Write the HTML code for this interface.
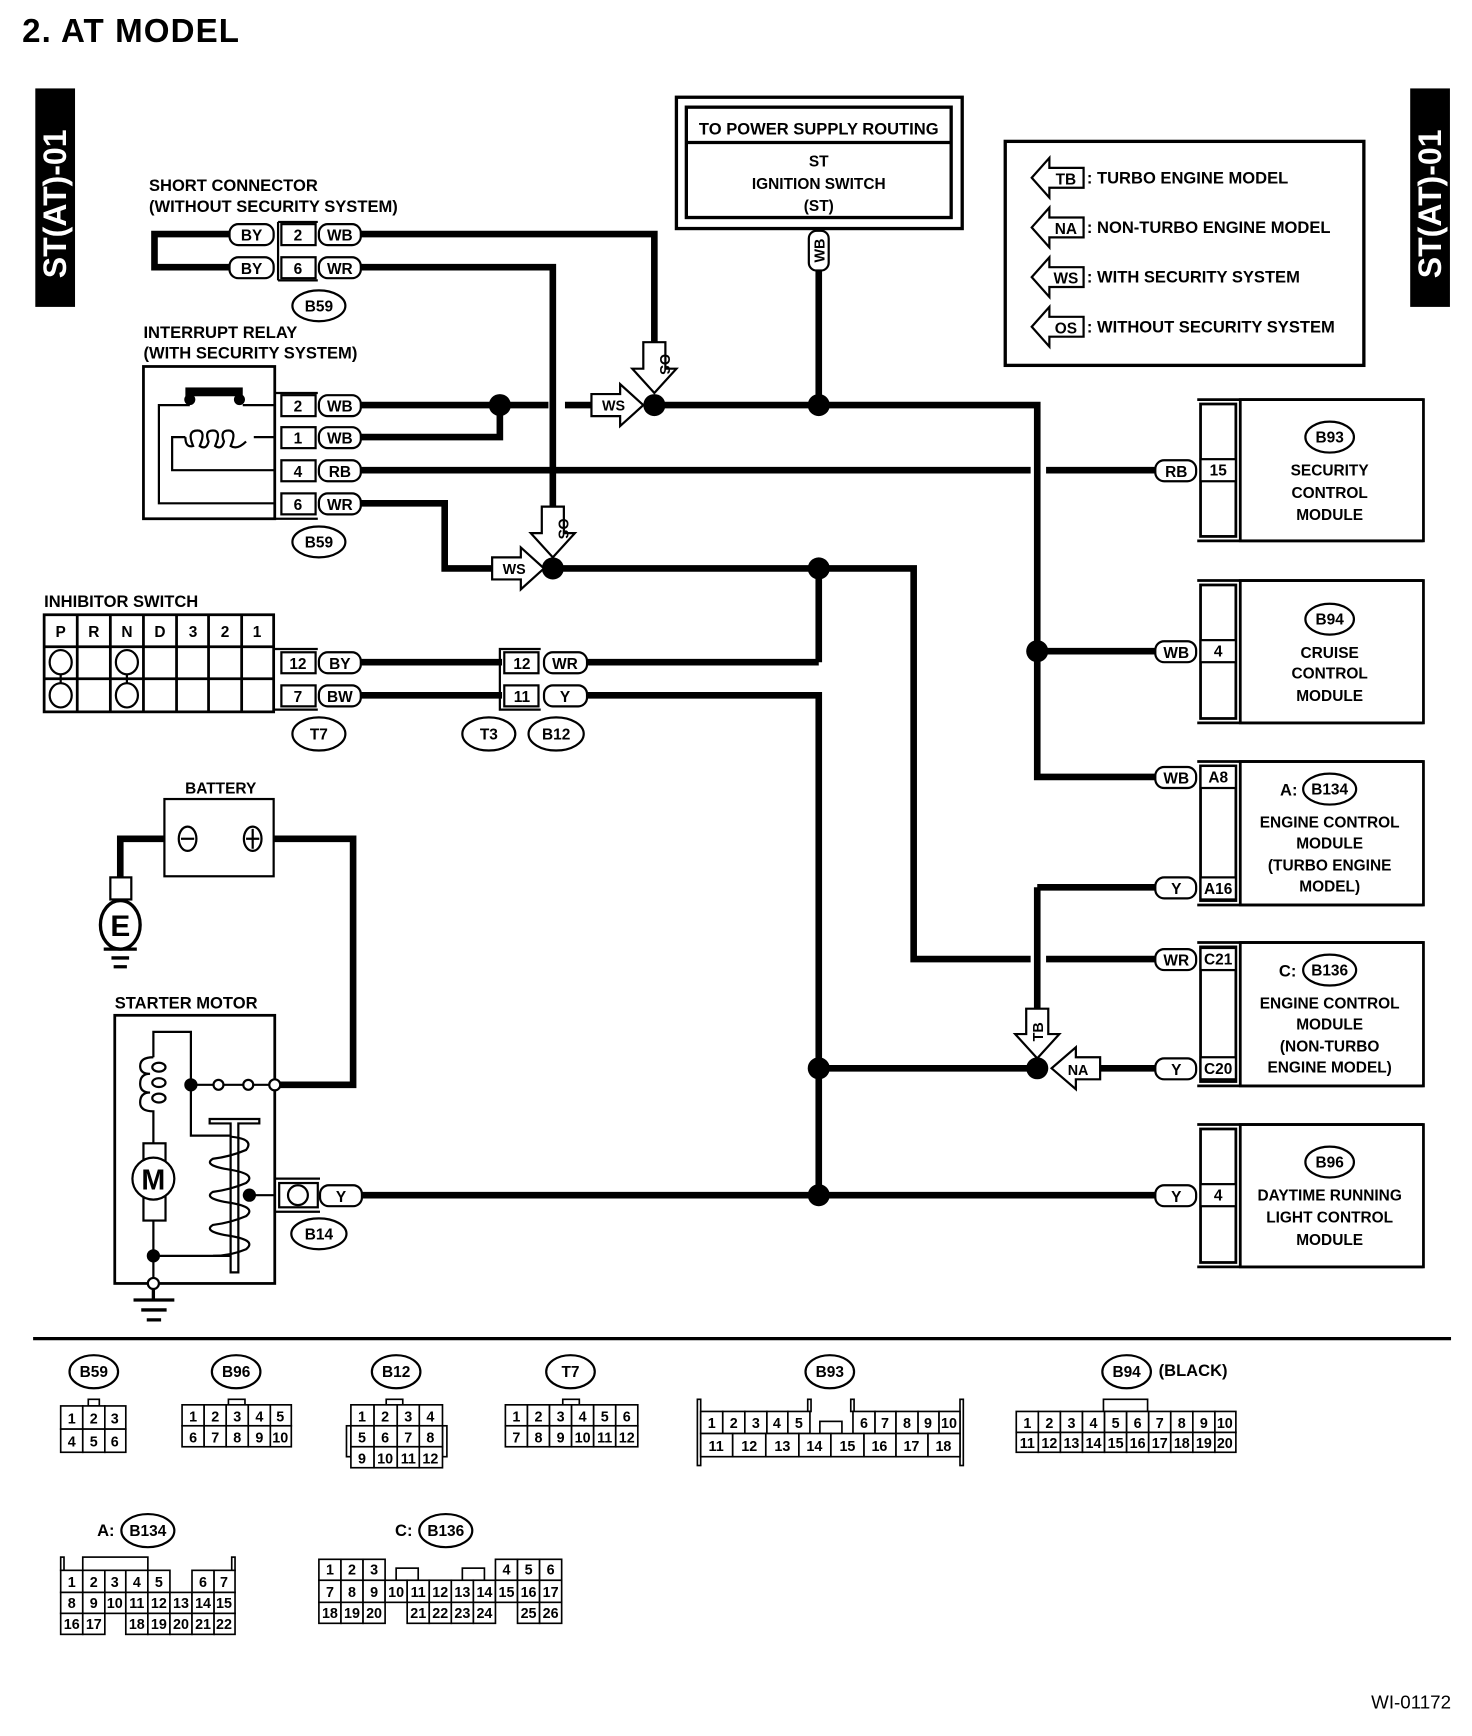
<!DOCTYPE html>
<html><head><meta charset="utf-8"><style>
html,body{margin:0;padding:0;background:#fff}
svg{display:block}
text{font-family:"Liberation Sans",sans-serif;font-weight:bold;fill:#000}
.s{font-size:15px}
.m{font-size:14px;text-anchor:middle}
.n{font-size:13px;text-anchor:middle;font-weight:normal}
.w{fill:none;stroke:#000;stroke-width:6}
.l{fill:none;stroke:#000;stroke-width:2}
.p{fill:#fff;stroke:#000;stroke-width:2}
.g rect{fill:#fff;stroke:#000;stroke-width:1.5}
</style></head><body>
<svg width="1472" height="1736" viewBox="0 0 1334 1573" xmlns="http://www.w3.org/2000/svg">
<text x="20" y="38" style="font-size:30px;letter-spacing:1px">2.  AT MODEL</text>
<!-- side tabs -->
<rect x="32" y="80" width="36" height="198" fill="#000"/>
<text transform="translate(60,252) rotate(-90)" style="font-size:29px;fill:#fff">ST(AT)-01</text>
<rect x="1278" y="80" width="36" height="198" fill="#000"/>
<text transform="translate(1306,252) rotate(-90)" style="font-size:29px;fill:#fff">ST(AT)-01</text>

<!-- power supply box -->
<rect x="613" y="88" width="259" height="119" class="l" style="stroke-width:3"/>
<rect x="622" y="97" width="240" height="100" class="l" style="stroke-width:3"/>
<line x1="622" y1="129" x2="862" y2="129" class="l" style="stroke-width:3"/>
<text x="742" y="122" class="m" style="font-size:15px">TO POWER SUPPLY ROUTING</text>
<text x="742" y="151" class="m">ST</text>
<text x="742" y="171" class="m">IGNITION SWITCH</text>
<text x="742" y="191" class="m">(ST)</text>
<rect x="733" y="209" width="18" height="36" rx="7" class="p"/>
<text transform="translate(747,227) rotate(-90)" class="m" style="font-size:13px">WB</text>

<!-- legend -->
<rect x="911" y="128" width="325" height="203" class="l" style="stroke-width:3"/>
<g class="s">
<polygon points="935,161 951,143 951,152 982,152 982,170 951,170 951,179" class="p"/>
<text x="966" y="167" class="m">TB</text><text x="985" y="166">: TURBO ENGINE MODEL</text>
<polygon points="935,206 951,188 951,197 982,197 982,215 951,215 951,224" class="p"/>
<text x="966" y="212" class="m">NA</text><text x="985" y="211">: NON-TURBO ENGINE MODEL</text>
<polygon points="935,251 951,233 951,242 982,242 982,260 951,260 951,269" class="p"/>
<text x="966" y="257" class="m">WS</text><text x="985" y="256">: WITH SECURITY SYSTEM</text>
<polygon points="935,296 951,278 951,287 982,287 982,305 951,305 951,314" class="p"/>
<text x="966" y="302" class="m">OS</text><text x="985" y="301">: WITHOUT SECURITY SYSTEM</text>
</g>

<!-- short connector -->
<text x="135" y="173" class="s">SHORT CONNECTOR</text>
<text x="135" y="192" class="s">(WITHOUT SECURITY SYSTEM)</text>
<path d="M208,212 H140 V242 H208" class="w"/>
<path d="M327,212 H593 V312" class="w"/>
<path d="M327,242 H501 V460" class="w"/>
<rect x="208" y="203" width="40" height="19" rx="8" class="p"/><text x="228" y="218" class="m">BY</text>
<rect x="208" y="233" width="40" height="19" rx="8" class="p"/><text x="228" y="248" class="m">BY</text>
<path d="M252,201 H288 M252,254 H288 M252,201 V254" class="l"/>
<rect x="255" y="203" width="31" height="19" class="p"/><text x="270" y="218" class="m">2</text>
<rect x="255" y="233" width="31" height="19" class="p"/><text x="270" y="248" class="m">6</text>
<rect x="289" y="203" width="38" height="19" rx="8" class="p"/><text x="308" y="218" class="m">WB</text>
<rect x="289" y="233" width="38" height="19" rx="8" class="p"/><text x="308" y="248" class="m">WR</text>
<ellipse cx="289" cy="277" rx="24" ry="14" class="p"/><text x="289" y="282" class="m">B59</text>

<!-- interrupt relay -->
<text x="130" y="306" class="s">INTERRUPT RELAY</text>
<text x="130" y="325" class="s">(WITH SECURITY SYSTEM)</text>
<rect x="130" y="332" width="119" height="138" class="l" style="stroke-width:2.5"/>
<rect x="168" y="351" width="52" height="8" fill="#000"/>
<circle cx="172" cy="362" r="5"/><circle cx="217" cy="362" r="5"/>
<path d="M249,367 H220 M172,367 H144 V456 H249" class="l"/>
<path d="M249,396 H230 M168,396 H156 V426 H249" class="l"/>
<path d="M168,396 q0,10 7,8 q-6,-14 4,-14 q8,0 2,14 q6,4 8,-4 q-4,-10 4,-10 q8,0 2,14 q6,4 8,-4 q-4,-10 4,-10 q8,0 2,14 q6,4 14,-4" class="l"/>
<path d="M249,356 H288 M249,470 H288 M249,356 V470" class="l"/>
<rect x="255" y="358" width="31" height="19" class="p"/><text x="270" y="373" class="m">2</text>
<rect x="255" y="387" width="31" height="19" class="p"/><text x="270" y="402" class="m">1</text>
<rect x="255" y="417" width="31" height="19" class="p"/><text x="270" y="432" class="m">4</text>
<rect x="255" y="447" width="31" height="19" class="p"/><text x="270" y="462" class="m">6</text>
<!-- wires from relay -->
<path d="M327,367 H497 M512,367 H545" class="w"/>
<path d="M327,396 H453 V367" class="w"/>
<circle cx="453" cy="367" r="10"/>
<path d="M327,426 H934 M948,426 H1048" class="w"/>
<path d="M327,456 H403 V515 H452" class="w"/>
<rect x="289" y="358" width="38" height="19" rx="8" class="p"/><text x="308" y="373" class="m">WB</text>
<rect x="289" y="387" width="38" height="19" rx="8" class="p"/><text x="308" y="402" class="m">WB</text>
<rect x="289" y="417" width="38" height="19" rx="8" class="p"/><text x="308" y="432" class="m">RB</text>
<rect x="289" y="447" width="38" height="19" rx="8" class="p"/><text x="308" y="462" class="m">WR</text>
<ellipse cx="289" cy="491" rx="24" ry="14" class="p"/><text x="289" y="496" class="m">B59</text>

<!-- main top wire -->
<path d="M593,367 H940 V704 H1048" class="w"/>
<path d="M742,245 V367" class="w"/>
<circle cx="742" cy="367" r="10"/><circle cx="593" cy="367" r="10"/>
<polygon points="536,357 562,357 562,348 583,367 562,386 562,377 536,377" class="p"/>
<text x="556" y="372" class="m" style="font-size:13px">WS</text>
<polygon points="583,310 603,310 603,334 613,334 593,356 573,334 583,334" class="p"/>
<text transform="translate(598,330) rotate(90)" class="m" style="font-size:13px">OS</text>
<!-- second wire -->
<path d="M501,515 H828 V869 H934 M948,869 H1048" class="w"/>
<path d="M742,515 V600" class="w"/>
<circle cx="742" cy="515" r="10"/><circle cx="501" cy="515" r="10"/>
<polygon points="446,505 472,505 472,496 493,515 472,534 472,525 446,525" class="p"/>
<text x="466" y="520" class="m" style="font-size:13px">WS</text>
<polygon points="491,459 511,459 511,483 521,483 501,505 481,483 491,483" class="p"/>
<text transform="translate(506,479) rotate(90)" class="m" style="font-size:13px">OS</text>
<path d="M940,590 H1048" class="w"/><circle cx="940" cy="590" r="10"/>

<!-- inhibitor switch -->
<text x="40" y="550" class="s">INHIBITOR SWITCH</text>
<g class="l" style="stroke-width:2.5">
<rect x="40" y="557" width="208" height="88"/>
<path d="M40,586 H248 M40,615 H248 M70,557 V645 M100,557 V645 M130,557 V645 M160,557 V645 M189,557 V645 M219,557 V645"/>
</g>
<g class="m"><text x="55" y="577">P</text><text x="85" y="577">R</text><text x="115" y="577">N</text><text x="145" y="577">D</text><text x="175" y="577">3</text><text x="204" y="577">2</text><text x="233" y="577">1</text></g>
<g class="l"><ellipse cx="55" cy="600" rx="10" ry="11"/><ellipse cx="55" cy="630" rx="10" ry="11"/><ellipse cx="115" cy="600" rx="10" ry="11"/><ellipse cx="115" cy="630" rx="10" ry="11"/><path d="M55,611 V619 M115,611 V619"/></g>
<path d="M248,588 H288 M248,643 H288" class="l"/>
<rect x="255" y="591" width="31" height="19" class="p"/><text x="270" y="606" class="m">12</text>
<rect x="255" y="621" width="31" height="19" class="p"/><text x="270" y="636" class="m">7</text>
<path d="M327,600 H455 M327,630 H455" class="w"/>
<rect x="289" y="591" width="38" height="19" rx="8" class="p"/><text x="308" y="606" class="m">BY</text>
<rect x="289" y="621" width="38" height="19" rx="8" class="p"/><text x="308" y="636" class="m">BW</text>
<ellipse cx="289" cy="665" rx="24" ry="15" class="p"/><text x="289" y="670" class="m">T7</text>
<path d="M490,588 H453 V643 H490" class="l"/>
<rect x="457" y="591" width="31" height="19" class="p"/><text x="473" y="606" class="m">12</text>
<rect x="457" y="621" width="31" height="19" class="p"/><text x="473" y="636" class="m">11</text>
<path d="M532,600 H742 M532,630 H742 V1083" class="w"/>
<rect x="493" y="591" width="39" height="19" rx="8" class="p"/><text x="512" y="606" class="m">WR</text>
<rect x="493" y="621" width="39" height="19" rx="8" class="p"/><text x="512" y="636" class="m">Y</text>
<ellipse cx="443" cy="665" rx="24" ry="15" class="p"/><text x="443" y="670" class="m">T3</text>
<ellipse cx="504" cy="665" rx="25" ry="15" class="p"/><text x="504" y="670" class="m">B12</text>

<!-- battery -->
<text x="200" y="719" class="m">BATTERY</text>
<rect x="149" y="724" width="99" height="70" class="l"/>
<path d="M149,760 H109 V795 M248,760 H320 V983 H249" class="w"/>
<ellipse cx="170" cy="760" rx="8" ry="11" class="p"/><path d="M164,760 H176" class="l"/>
<ellipse cx="229" cy="760" rx="8" ry="11" class="p"/><path d="M223,760 H235 M229,751 V769" class="l"/>
<rect x="100" y="795" width="19" height="20" class="p"/>
<ellipse cx="109" cy="838" rx="18" ry="22" class="p" style="stroke-width:3"/>
<text x="109" y="848" class="m" style="font-size:27px">E</text>
<path d="M94,860 H124 M101,868 H117 M103,876 H115" class="l" style="stroke-width:3"/>

<!-- starter motor -->
<text x="104" y="914" class="s">STARTER MOTOR</text>
<rect x="104" y="920" width="145" height="243" class="l" style="stroke-width:2.5"/>
<path d="M139,958 V935 H173 V1029 H208 M173,983 H249" class="l"/>
<path d="M139,958 q-12,0 -12,8 q0,7 9,7 q-9,0 -9,9 q0,8 9,8 q-9,0 -9,9 q0,8 12,8 V1036" class="l"/>
<ellipse cx="144" cy="967" rx="6" ry="4" class="l"/><ellipse cx="144" cy="981" rx="6" ry="4" class="l"/><ellipse cx="144" cy="995" rx="6" ry="4" class="l"/>
<circle cx="173" cy="983" r="6"/>
<circle cx="198" cy="983" r="4.5" class="p"/><circle cx="225" cy="983" r="4.5" class="p"/><circle cx="249" cy="983" r="5" class="p"/>
<rect x="130" y="1036" width="20" height="70" class="p"/>
<circle cx="139" cy="1068" r="19" class="p"/>
<text x="139" y="1078" class="m" style="font-size:26px">M</text>
<path d="M139,1106 V1163 M139,1138 H212" class="l"/>
<circle cx="139" cy="1138" r="6"/>
<path d="M190,1014 H235 V1018 H216 V1153 H209 V1018 H190 Z" class="p"/>
<path d="M209,1030 q22,2 14,12 q-14,6 -30,8 q-10,6 16,10 q24,4 14,12 q-14,6 -30,8 q-10,6 16,10 q24,4 14,12 q-14,6 -30,8 q-10,6 16,10 q24,4 14,12 q-14,6 -30,6" class="l"/>
<circle cx="226" cy="1083" r="6"/><path d="M226,1083 H249" class="l"/>
<circle cx="139" cy="1163" r="5" class="p"/>
<path d="M139,1168 V1178 M121,1178 H158 M128,1187 H151 M133,1196 H146" class="l" style="stroke-width:3"/>
<path d="M249,1068 H290 M249,1098 H290" class="l"/>
<rect x="253" y="1072" width="35" height="22" class="p"/>
<circle cx="270" cy="1083" r="9" class="p"/>
<path d="M327,1083 H1048 M742,968 H940 M997,968 H1048 M940,804 H1048 M940,804 V915" class="w"/>
<rect x="290" y="1074" width="38" height="19" rx="8" class="p"/><text x="309" y="1089" class="m">Y</text>
<ellipse cx="289" cy="1118" rx="25" ry="14" class="p"/><text x="289" y="1123" class="m">B14</text>
<circle cx="742" cy="968" r="10"/><circle cx="742" cy="1083" r="10"/><circle cx="940" cy="968" r="10"/>
<polygon points="930,914 950,914 950,937 960,937 940,959 920,937 930,937" class="p"/>
<text transform="translate(945,935) rotate(-90)" class="m" style="font-size:13px">TB</text>
<polygon points="997,958 975,958 975,949 953,968 975,987 975,978 997,978" class="p"/>
<text x="977" y="974" class="m" style="font-size:13px">NA</text>

<!-- modules -->
<g>
<path d="M1085,362 H1290 M1085,490 H1290" class="l" style="stroke-width:2.5"/>
<rect x="1088" y="366" width="32" height="120" class="l" style="stroke-width:2.5"/>
<rect x="1124" y="362" width="166" height="128" class="l" style="stroke-width:2.5"/>
<rect x="1088" y="416" width="32" height="20" class="p"/><text x="1104" y="431" class="m">15</text>
<rect x="1047" y="417" width="37" height="19" rx="8" class="p"/><text x="1066" y="432" class="m">RB</text>
<ellipse cx="1205" cy="396" rx="22" ry="14" class="p"/><text x="1205" y="401" class="m">B93</text>
<text x="1205" y="431" class="m">SECURITY</text><text x="1205" y="451" class="m">CONTROL</text><text x="1205" y="471" class="m">MODULE</text>
<path d="M1085,526 H1290 M1085,655 H1290" class="l" style="stroke-width:2.5"/>
<rect x="1088" y="530" width="32" height="121" class="l" style="stroke-width:2.5"/>
<rect x="1124" y="526" width="166" height="129" class="l" style="stroke-width:2.5"/>
<rect x="1088" y="580" width="32" height="20" class="p"/><text x="1104" y="595" class="m">4</text>
<rect x="1047" y="581" width="37" height="19" rx="8" class="p"/><text x="1066" y="596" class="m">WB</text>
<ellipse cx="1205" cy="561" rx="22" ry="14" class="p"/><text x="1205" y="566" class="m">B94</text>
<text x="1205" y="596" class="m">CRUISE</text><text x="1205" y="615" class="m">CONTROL</text><text x="1205" y="635" class="m">MODULE</text>
<path d="M1085,690 H1290 M1085,820 H1290" class="l" style="stroke-width:2.5"/>
<rect x="1088" y="694" width="32" height="122" class="l" style="stroke-width:2.5"/>
<rect x="1124" y="690" width="166" height="130" class="l" style="stroke-width:2.5"/>
<rect x="1088" y="694" width="32" height="20" class="p"/><text x="1104" y="709" class="m">A8</text>
<rect x="1088" y="795" width="32" height="20" class="p"/><text x="1104" y="810" class="m">A16</text>
<rect x="1047" y="695" width="37" height="19" rx="8" class="p"/><text x="1066" y="710" class="m">WB</text>
<rect x="1047" y="795" width="37" height="19" rx="8" class="p"/><text x="1066" y="810" class="m">Y</text>
<text x="1160" y="721" class="s">A:</text>
<ellipse cx="1205" cy="715" rx="24" ry="14" class="p"/><text x="1205" y="720" class="m">B134</text>
<text x="1205" y="750" class="m">ENGINE CONTROL</text><text x="1205" y="769" class="m">MODULE</text><text x="1205" y="789" class="m">(TURBO ENGINE</text><text x="1205" y="808" class="m">MODEL)</text>
<path d="M1085,854 H1290 M1085,984 H1290" class="l" style="stroke-width:2.5"/>
<rect x="1088" y="858" width="32" height="122" class="l" style="stroke-width:2.5"/>
<rect x="1124" y="854" width="166" height="130" class="l" style="stroke-width:2.5"/>
<rect x="1088" y="859" width="32" height="20" class="p"/><text x="1104" y="874" class="m">C21</text>
<rect x="1088" y="958" width="32" height="20" class="p"/><text x="1104" y="973" class="m">C20</text>
<rect x="1047" y="860" width="37" height="19" rx="8" class="p"/><text x="1066" y="875" class="m">WR</text>
<rect x="1047" y="959" width="37" height="19" rx="8" class="p"/><text x="1066" y="974" class="m">Y</text>
<text x="1159" y="885" class="s">C:</text>
<ellipse cx="1205" cy="879" rx="24" ry="14" class="p"/><text x="1205" y="884" class="m">B136</text>
<text x="1205" y="914" class="m">ENGINE CONTROL</text><text x="1205" y="933" class="m">MODULE</text><text x="1205" y="953" class="m">(NON-TURBO</text><text x="1205" y="972" class="m">ENGINE MODEL)</text>
<path d="M1085,1019 H1290 M1085,1148 H1290" class="l" style="stroke-width:2.5"/>
<rect x="1088" y="1023" width="32" height="121" class="l" style="stroke-width:2.5"/>
<rect x="1124" y="1019" width="166" height="129" class="l" style="stroke-width:2.5"/>
<rect x="1088" y="1073" width="32" height="20" class="p"/><text x="1104" y="1088" class="m">4</text>
<rect x="1047" y="1074" width="37" height="19" rx="8" class="p"/><text x="1066" y="1089" class="m">Y</text>
<ellipse cx="1205" cy="1053" rx="22" ry="14" class="p"/><text x="1205" y="1058" class="m">B96</text>
<text x="1205" y="1088" class="m">DAYTIME RUNNING</text><text x="1205" y="1108" class="m">LIGHT CONTROL</text><text x="1205" y="1128" class="m">MODULE</text>
</g>

<line x1="30" y1="1213" x2="1315" y2="1213" stroke="#000" stroke-width="3"/>

<g class="p">
<ellipse cx="85" cy="1243" rx="22" ry="15"/><ellipse cx="214" cy="1243" rx="22" ry="15"/><ellipse cx="359" cy="1243" rx="22" ry="15"/><ellipse cx="517" cy="1243" rx="22" ry="15"/><ellipse cx="752" cy="1243" rx="22" ry="15"/><ellipse cx="1021" cy="1243" rx="22" ry="15"/><ellipse cx="134" cy="1387" rx="24" ry="15"/><ellipse cx="404" cy="1387" rx="24" ry="15"/>
</g>
<g class="m"><text x="85" y="1248">B59</text><text x="214" y="1248">B96</text><text x="359" y="1248">B12</text><text x="517" y="1248">T7</text><text x="752" y="1248">B93</text><text x="1021" y="1248">B94</text><text x="134" y="1392">B134</text><text x="404" y="1392">B136</text></g>
<text x="1050" y="1247" class="s">(BLACK)</text>
<text x="88" y="1392" class="s">A:</text><text x="358" y="1392" class="s">C:</text>

<g class="g">
<rect x="80" y="1268" width="10" height="6"/>
<rect x="55" y="1274" width="20" height="21"/><rect x="75" y="1274" width="20" height="21"/><rect x="95" y="1274" width="19" height="21"/>
<rect x="55" y="1295" width="20" height="21"/><rect x="75" y="1295" width="20" height="21"/><rect x="95" y="1295" width="19" height="21"/>
<rect x="207" y="1268" width="15" height="5"/>
<rect x="165" y="1273" width="20" height="19"/><rect x="185" y="1273" width="20" height="19"/><rect x="205" y="1273" width="20" height="19"/><rect x="225" y="1273" width="20" height="19"/><rect x="245" y="1273" width="19" height="19"/>
<rect x="165" y="1292" width="20" height="19"/><rect x="185" y="1292" width="20" height="19"/><rect x="205" y="1292" width="20" height="19"/><rect x="225" y="1292" width="20" height="19"/><rect x="245" y="1292" width="19" height="19"/>
<rect x="350" y="1268" width="15" height="5"/>
<rect x="314" y="1292" width="4" height="28"/><rect x="401" y="1292" width="4" height="28"/>
<rect x="318" y="1273" width="21" height="19"/><rect x="339" y="1273" width="21" height="19"/><rect x="360" y="1273" width="20" height="19"/><rect x="380" y="1273" width="21" height="19"/>
<rect x="318" y="1292" width="21" height="19"/><rect x="339" y="1292" width="21" height="19"/><rect x="360" y="1292" width="20" height="19"/><rect x="380" y="1292" width="21" height="19"/>
<rect x="318" y="1311" width="21" height="19"/><rect x="339" y="1311" width="21" height="19"/><rect x="360" y="1311" width="20" height="19"/><rect x="380" y="1311" width="21" height="19"/>
<rect x="510" y="1268" width="15" height="5"/>
<rect x="458" y="1273" width="20" height="19"/><rect x="478" y="1273" width="20" height="19"/><rect x="498" y="1273" width="20" height="19"/><rect x="518" y="1273" width="20" height="19"/><rect x="538" y="1273" width="20" height="19"/><rect x="558" y="1273" width="20" height="19"/>
<rect x="458" y="1292" width="20" height="19"/><rect x="478" y="1292" width="20" height="19"/><rect x="498" y="1292" width="20" height="19"/><rect x="518" y="1292" width="20" height="19"/><rect x="538" y="1292" width="20" height="19"/><rect x="558" y="1292" width="20" height="19"/>
<rect x="632" y="1268" width="3" height="60"/><rect x="870" y="1268" width="3" height="60"/><rect x="732" y="1268" width="3" height="11"/><rect x="771" y="1268" width="3" height="11"/>
<rect x="743" y="1288" width="20" height="11"/>
<rect x="635" y="1279" width="20" height="20"/><rect x="655" y="1279" width="20" height="20"/><rect x="675" y="1279" width="20" height="20"/><rect x="695" y="1279" width="19" height="20"/><rect x="714" y="1279" width="20" height="20"/>
<rect x="773" y="1279" width="20" height="20"/><rect x="793" y="1279" width="19" height="20"/><rect x="812" y="1279" width="20" height="20"/><rect x="832" y="1279" width="19" height="20"/><rect x="851" y="1279" width="19" height="20"/>
<rect x="635" y="1299" width="29" height="21"/><rect x="664" y="1299" width="30" height="21"/><rect x="694" y="1299" width="30" height="21"/><rect x="724" y="1299" width="29" height="21"/><rect x="753" y="1299" width="30" height="21"/><rect x="783" y="1299" width="29" height="21"/><rect x="812" y="1299" width="29" height="21"/><rect x="841" y="1299" width="29" height="21"/>
<rect x="1000" y="1268" width="40" height="11"/>
<rect x="921" y="1279" width="20" height="19"/><rect x="941" y="1279" width="20" height="19"/><rect x="961" y="1279" width="20" height="19"/><rect x="981" y="1279" width="20" height="19"/><rect x="1001" y="1279" width="20" height="19"/><rect x="1021" y="1279" width="20" height="19"/><rect x="1041" y="1279" width="20" height="19"/><rect x="1061" y="1279" width="20" height="19"/><rect x="1081" y="1279" width="20" height="19"/><rect x="1101" y="1279" width="19" height="19"/>
<rect x="921" y="1298" width="20" height="18"/><rect x="941" y="1298" width="20" height="18"/><rect x="961" y="1298" width="20" height="18"/><rect x="981" y="1298" width="20" height="18"/><rect x="1001" y="1298" width="20" height="18"/><rect x="1021" y="1298" width="20" height="18"/><rect x="1041" y="1298" width="20" height="18"/><rect x="1061" y="1298" width="20" height="18"/><rect x="1081" y="1298" width="20" height="18"/><rect x="1101" y="1298" width="19" height="18"/>
<rect x="55" y="1411" width="3" height="12"/><rect x="210" y="1411" width="3" height="12"/><rect x="75" y="1411" width="59" height="12"/>
<rect x="55" y="1423" width="20" height="20"/><rect x="75" y="1423" width="20" height="20"/><rect x="95" y="1423" width="19" height="20"/><rect x="114" y="1423" width="20" height="20"/><rect x="134" y="1423" width="20" height="20"/><rect x="174" y="1423" width="20" height="20"/><rect x="194" y="1423" width="19" height="20"/>
<rect x="55" y="1443" width="20" height="19"/><rect x="75" y="1443" width="20" height="19"/><rect x="95" y="1443" width="19" height="19"/><rect x="114" y="1443" width="20" height="19"/><rect x="134" y="1443" width="20" height="19"/><rect x="154" y="1443" width="20" height="19"/><rect x="174" y="1443" width="20" height="19"/><rect x="194" y="1443" width="19" height="19"/>
<rect x="55" y="1462" width="20" height="19"/><rect x="75" y="1462" width="20" height="19"/><rect x="114" y="1462" width="20" height="19"/><rect x="134" y="1462" width="20" height="19"/><rect x="154" y="1462" width="20" height="19"/><rect x="174" y="1462" width="20" height="19"/><rect x="194" y="1462" width="19" height="19"/>
<rect x="359" y="1421" width="20" height="11"/><rect x="419" y="1421" width="20" height="11"/>
<rect x="289" y="1413" width="20" height="19"/><rect x="309" y="1413" width="20" height="19"/><rect x="329" y="1413" width="20" height="19"/><rect x="449" y="1413" width="20" height="19"/><rect x="469" y="1413" width="20" height="19"/><rect x="489" y="1413" width="20" height="19"/>
<rect x="289" y="1432" width="20" height="20"/><rect x="309" y="1432" width="20" height="20"/><rect x="329" y="1432" width="20" height="20"/><rect x="349" y="1432" width="20" height="20"/><rect x="369" y="1432" width="20" height="20"/><rect x="389" y="1432" width="20" height="20"/><rect x="409" y="1432" width="20" height="20"/><rect x="429" y="1432" width="20" height="20"/><rect x="449" y="1432" width="20" height="20"/><rect x="469" y="1432" width="20" height="20"/><rect x="489" y="1432" width="20" height="20"/>
<rect x="289" y="1452" width="20" height="19"/><rect x="309" y="1452" width="20" height="19"/><rect x="329" y="1452" width="20" height="19"/><rect x="369" y="1452" width="20" height="19"/><rect x="389" y="1452" width="20" height="19"/><rect x="409" y="1452" width="20" height="19"/><rect x="429" y="1452" width="20" height="19"/><rect x="469" y="1452" width="20" height="19"/><rect x="489" y="1452" width="20" height="19"/>
</g>
<g class="n">
<text x="65" y="1290">1</text><text x="85" y="1290">2</text><text x="104" y="1290">3</text><text x="65" y="1311">4</text><text x="85" y="1311">5</text><text x="104" y="1311">6</text>
<text x="175" y="1288">1</text><text x="195" y="1288">2</text><text x="215" y="1288">3</text><text x="235" y="1288">4</text><text x="254" y="1288">5</text>
<text x="175" y="1307">6</text><text x="195" y="1307">7</text><text x="215" y="1307">8</text><text x="235" y="1307">9</text><text x="254" y="1307">10</text>
<text x="328" y="1288">1</text><text x="349" y="1288">2</text><text x="370" y="1288">3</text><text x="390" y="1288">4</text>
<text x="328" y="1307">5</text><text x="349" y="1307">6</text><text x="370" y="1307">7</text><text x="390" y="1307">8</text>
<text x="328" y="1326">9</text><text x="349" y="1326">10</text><text x="370" y="1326">11</text><text x="390" y="1326">12</text>
<text x="468" y="1288">1</text><text x="488" y="1288">2</text><text x="508" y="1288">3</text><text x="528" y="1288">4</text><text x="548" y="1288">5</text><text x="568" y="1288">6</text>
<text x="468" y="1307">7</text><text x="488" y="1307">8</text><text x="508" y="1307">9</text><text x="528" y="1307">10</text><text x="548" y="1307">11</text><text x="568" y="1307">12</text>
<text x="645" y="1294">1</text><text x="665" y="1294">2</text><text x="685" y="1294">3</text><text x="704" y="1294">4</text><text x="724" y="1294">5</text>
<text x="783" y="1294">6</text><text x="802" y="1294">7</text><text x="822" y="1294">8</text><text x="841" y="1294">9</text><text x="860" y="1294">10</text>
<text x="649" y="1315">11</text><text x="679" y="1315">12</text><text x="709" y="1315">13</text><text x="738" y="1315">14</text><text x="768" y="1315">15</text><text x="797" y="1315">16</text><text x="826" y="1315">17</text><text x="855" y="1315">18</text>
<text x="931" y="1294">1</text><text x="951" y="1294">2</text><text x="971" y="1294">3</text><text x="991" y="1294">4</text><text x="1011" y="1294">5</text><text x="1031" y="1294">6</text><text x="1051" y="1294">7</text><text x="1071" y="1294">8</text><text x="1091" y="1294">9</text><text x="1110" y="1294">10</text>
<text x="931" y="1312">11</text><text x="951" y="1312">12</text><text x="971" y="1312">13</text><text x="991" y="1312">14</text><text x="1011" y="1312">15</text><text x="1031" y="1312">16</text><text x="1051" y="1312">17</text><text x="1071" y="1312">18</text><text x="1091" y="1312">19</text><text x="1110" y="1312">20</text>
<text x="65" y="1438">1</text><text x="85" y="1438">2</text><text x="104" y="1438">3</text><text x="124" y="1438">4</text><text x="144" y="1438">5</text><text x="184" y="1438">6</text><text x="203" y="1438">7</text>
<text x="65" y="1457">8</text><text x="85" y="1457">9</text><text x="104" y="1457">10</text><text x="124" y="1457">11</text><text x="144" y="1457">12</text><text x="164" y="1457">13</text><text x="184" y="1457">14</text><text x="203" y="1457">15</text>
<text x="65" y="1476">16</text><text x="85" y="1476">17</text><text x="124" y="1476">18</text><text x="144" y="1476">19</text><text x="164" y="1476">20</text><text x="184" y="1476">21</text><text x="203" y="1476">22</text>
<text x="299" y="1427">1</text><text x="319" y="1427">2</text><text x="339" y="1427">3</text><text x="459" y="1427">4</text><text x="479" y="1427">5</text><text x="499" y="1427">6</text>
<text x="299" y="1447">7</text><text x="319" y="1447">8</text><text x="339" y="1447">9</text><text x="359" y="1447">10</text><text x="379" y="1447">11</text><text x="399" y="1447">12</text><text x="419" y="1447">13</text><text x="439" y="1447">14</text><text x="459" y="1447">15</text><text x="479" y="1447">16</text><text x="499" y="1447">17</text>
<text x="299" y="1466">18</text><text x="319" y="1466">19</text><text x="339" y="1466">20</text><text x="379" y="1466">21</text><text x="399" y="1466">22</text><text x="419" y="1466">23</text><text x="439" y="1466">24</text><text x="479" y="1466">25</text><text x="499" y="1466">26</text>
</g>
<text x="1315" y="1548" style="font-size:17px;font-weight:normal;text-anchor:end">WI-01172</text>
</svg>
</body></html>
